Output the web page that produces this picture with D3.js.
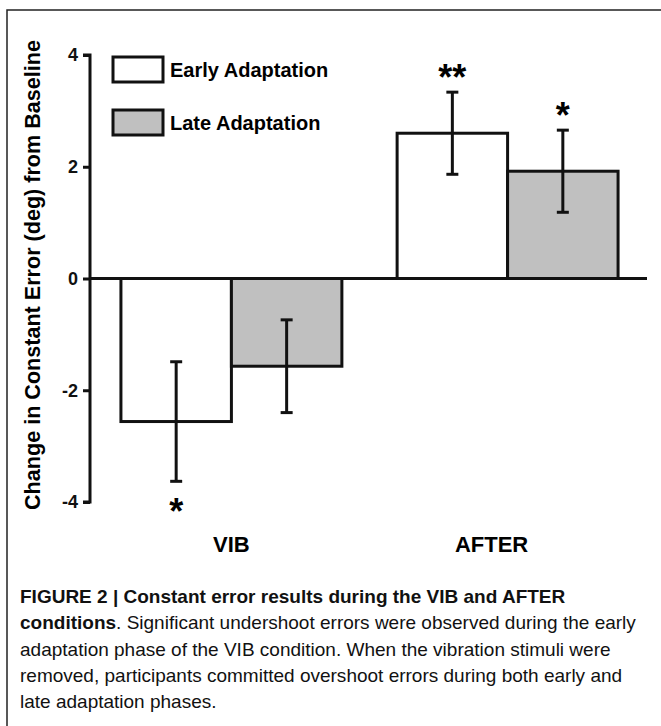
<!DOCTYPE html>
<html>
<head>
<meta charset="utf-8">
<script src="https://cdn.jsdelivr.net/npm/d3@7"></script>
<style>
  body { margin: 0; background: #fff; }
  svg { display: block; font-family: "Liberation Sans", Arial, sans-serif; }
</style>
</head>
<body>
<div id="chart"></div>
<script>
// data
const conditions = ["VIB", "AFTER"];
const phases     = ["Early Adaptation", "Late Adaptation"];
const earlyMean  = [-2.56, 2.60];
const earlySE    = [1.07, 0.735];
const lateMean   = [-1.57, 1.92];
const lateSE     = [0.83, 0.735];
const stars      = [["*", ""], ["**", "*"]];   // per condition, per phase
const yTicks     = [-4, -2, 0, 2, 4];
const yLabel     = "Change in Constant Error (deg) from Baseline";
const captionLines = [
  [["FIGURE 2 | Constant error results during the VIB and AFTER", true]],
  [["conditions", true], [". Significant undershoot errors were observed during the early", false]],
  [["adaptation phase of the VIB condition. When the vibration stimuli were", false]],
  [["removed, participants committed overshoot errors during both early and", false]],
  [["late adaptation phases.", false]]
];

const W = 661, H = 726;
const svg = d3.select("#chart").append("svg")
  .attr("width", W).attr("height", H);

// frame
svg.append("path")
  .attr("d", `M7,${H} V10 H${W}`)
  .attr("fill", "none").attr("stroke", "#222").attr("stroke-width", 1.5);

// flatten
const bars = [];
conditions.forEach((c, i) => {
  bars.push({cond: c, phase: phases[0], mean: earlyMean[i], se: earlySE[i], star: stars[i][0]});
  bars.push({cond: c, phase: phases[1], mean: lateMean[i], se: lateSE[i], star: stars[i][1]});
});

// scales
const y = d3.scaleLinear().domain([-4, 4]).range([502, 55]);
const x0 = d3.scaleBand().domain(conditions).range([90, 649])
  .paddingInner(0.2).paddingOuter(0.112);
const x1 = d3.scaleBand().domain(phases).range([0, x0.bandwidth()]);
const fill = d3.scaleOrdinal().domain(phases).range(["#ffffff", "#c0c0c0"]);

// bars
svg.selectAll(".bar")
  .data(bars)
  .enter().append("rect")
    .attr("x", d => x0(d.cond) + x1(d.phase))
    .attr("width", x1.bandwidth())
    .attr("y", d => y(Math.max(0, d.mean)))
    .attr("height", d => Math.abs(y(d.mean) - y(0)))
    .attr("fill", d => fill(d.phase))
    .attr("stroke", "#111").attr("stroke-width", 3);

// error bars
const err = svg.selectAll(".err").data(bars).enter().append("g")
  .attr("stroke", "#111").attr("stroke-width", 3);
const cx = d => x0(d.cond) + x1(d.phase) + x1.bandwidth() / 2;
err.append("line")
  .attr("x1", cx).attr("x2", cx)
  .attr("y1", d => y(d.mean + d.se)).attr("y2", d => y(d.mean - d.se));
err.append("line")
  .attr("x1", d => cx(d) - 6).attr("x2", d => cx(d) + 6)
  .attr("y1", d => y(d.mean + d.se)).attr("y2", d => y(d.mean + d.se));
err.append("line")
  .attr("x1", d => cx(d) - 6).attr("x2", d => cx(d) + 6)
  .attr("y1", d => y(d.mean - d.se)).attr("y2", d => y(d.mean - d.se));

// significance stars (above positive bars, below negative)
svg.selectAll(".star")
  .data(bars.filter(d => d.star))
  .enter().append("text")
    .attr("x", cx)
    .attr("y", d => d.mean > 0 ? y(d.mean + d.se) - 21 + 19 : y(d.mean - d.se) + 24 + 19)
    .attr("text-anchor", "middle")
    .style("font-size", "36px").style("font-weight", "bold")
    .text(d => d.star);

// zero line
svg.append("line")
  .attr("x1", 90).attr("x2", x0.range()[1] - 2)
  .attr("y1", y(0)).attr("y2", y(0))
  .attr("stroke", "#111").attr("stroke-width", 3);

// y axis
const yAxis = svg.append("g")
  .attr("transform", "translate(90,0)")
  .call(d3.axisLeft(y).tickValues(yTicks).tickSize(7).tickPadding(5).tickFormat(d3.format("d")));
yAxis.select(".domain").attr("stroke-width", 3).attr("stroke", "#111")
  .attr("d", `M-7,${y(4)}H0V${y(-4)}H-7`);
yAxis.selectAll(".tick line").attr("stroke-width", 3).attr("stroke", "#111");
yAxis.selectAll("text")
  .style("font-size", "18px").style("font-weight", "bold")
  .style("font-family", "'Liberation Sans', Arial, sans-serif").attr("fill", "#111")
  .text(d => d < 0 ? "-" + Math.abs(d) : d);

// y label, fitted to the span in the figure
const yl = svg.append("text")
  .attr("transform", `translate(40,275) rotate(-90)`)
  .attr("text-anchor", "middle")
  .style("font-size", "18px").style("font-weight", "bold")
  .text(yLabel);
const ylLen = yl.node().getComputedTextLength();
yl.style("font-size", (18 * 470 / ylLen).toFixed(2) + "px");

// category labels
const labelShift = {VIB: 0, AFTER: -16};
svg.selectAll(".cat")
  .data(conditions)
  .enter().append("text")
    .attr("x", d => x0(d) + x0.bandwidth() / 2 + labelShift[d])
    .attr("y", 552)
    .attr("text-anchor", "middle")
    .style("font-size", "22px").style("font-weight", "bold")
    .text(d => d);

// legend
const legend = svg.append("g").attr("transform", "translate(113,57)");
phases.forEach((p, i) => {
  const g = legend.append("g").attr("transform", `translate(0,${i * 53})`);
  g.append("rect")
    .attr("width", 50).attr("height", 25)
    .attr("fill", fill(p)).attr("stroke", "#111").attr("stroke-width", 3);
  g.append("text")
    .attr("x", 57).attr("y", 20)
    .style("font-size", "20px").style("font-weight", "bold")
    .text(p);
});

// caption
const cap = svg.append("g");
const capLines = captionLines.map((parts, i) => {
  const t = cap.append("text")
    .attr("x", 0).attr("y", 603 + i * 26.3)
    .style("font-size", "19px").attr("fill", "#111");
  parts.forEach(([s, b]) => t.append("tspan").style("font-weight", b ? "bold" : "normal").text(s));
  return t;
});
const sx = 616 / capLines[1].node().getComputedTextLength();
cap.attr("transform", `translate(20,0) scale(${sx},1)`);
</script>
</body>
</html>
